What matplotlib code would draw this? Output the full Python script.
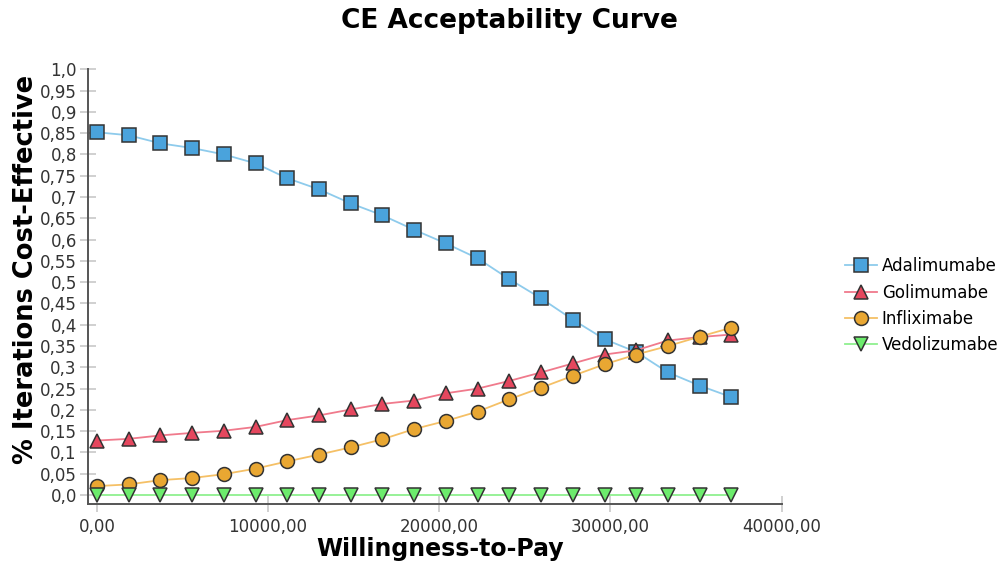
import matplotlib
matplotlib.use("Agg")
import matplotlib.pyplot as plt
from matplotlib.ticker import FuncFormatter

# willingness-to-pay grid (21 points)
wtp = [0, 1853, 3707, 5560, 7414, 9267, 11121, 12974, 14828, 16681, 18535,
       20388, 22242, 24095, 25949, 27802, 29656, 31509, 33363, 35216, 37070]

adalimumabe = [0.852, 0.845, 0.826, 0.815, 0.800, 0.779, 0.744, 0.718, 0.685, 0.657, 0.623,
               0.591, 0.556, 0.507, 0.462, 0.412, 0.366, 0.336, 0.288, 0.257, 0.230]
golimumabe = [0.128, 0.132, 0.140, 0.146, 0.151, 0.160, 0.176, 0.187, 0.201, 0.214, 0.222,
              0.239, 0.250, 0.268, 0.288, 0.309, 0.330, 0.340, 0.363, 0.371, 0.377]
infliximabe = [0.021, 0.025, 0.035, 0.040, 0.049, 0.062, 0.079, 0.095, 0.112, 0.131, 0.155,
               0.174, 0.196, 0.225, 0.252, 0.280, 0.307, 0.330, 0.350, 0.372, 0.393]
vedolizumabe = [0.0] * 21

series = [
    ("Adalimumabe", adalimumabe, "s", "#4aa3dc", "#8ecbec"),
    ("Golimumabe", golimumabe, "^", "#e5475e", "#f07a8c"),
    ("Infliximabe", infliximabe, "o", "#e9a732", "#f5c066"),
    ("Vedolizumabe", vedolizumabe, "v", "#6cec6c", "#8ff08f"),
]

fig = plt.figure(figsize=(10.02, 5.63), dpi=100)
ax = fig.add_axes([0.0878, 0.1048, 0.6922, 0.7722])

for name, vals, mk, face, line in series:
    ax.plot(wtp, vals, color=line, lw=1.3, marker=mk, markersize=10,
            markerfacecolor=face, markeredgecolor="#333333", markeredgewidth=1.1,
            label=name, clip_on=False, zorder=3)

ax.set_xlim(-520, 40000)
ax.set_ylim(-0.021, 1.0)
ax.set_xticks([0, 10000, 20000, 30000, 40000])
ax.set_yticks([i * 0.05 for i in range(21)])


def yfmt(v, pos):
    s = f"{v:.2f}".rstrip("0")
    if s.endswith("."):
        s += "0"
    return s.replace(".", ",")


ax.yaxis.set_major_formatter(FuncFormatter(yfmt))
ax.xaxis.set_major_formatter(FuncFormatter(lambda v, p: f"{v:.2f}".replace(".", ",")))

for side in ["top", "right"]:
    ax.spines[side].set_visible(False)
for side in ["left", "bottom"]:
    ax.spines[side].set_color("#555555")
    ax.spines[side].set_linewidth(1.4)

ax.tick_params(axis="both", direction="inout", length=12, width=1.2,
               color="#c8c8c8", labelsize=12, labelcolor="#333333")
ax.tick_params(axis="y", pad=2)
ax.tick_params(axis="x", pad=4)

fig.text(0.508, 1 - 8 / 563, "CE Acceptability Curve", ha="center", va="top",
         fontsize=19, fontweight="bold")
ax.set_xlabel("Willingness-to-Pay", fontsize=17, fontweight="bold")
ax.xaxis.set_label_coords(0.507, -0.075)
ax.set_ylabel("% Iterations Cost-Effective", fontsize=18.5, fontweight="bold")
ax.yaxis.set_label_coords(-0.071, 0.54)

ax.legend(loc="center left", bbox_to_anchor=(1.07, 0.456), frameon=False,
          fontsize=12, handlelength=1.9, handletextpad=0.3, labelspacing=0.5)

fig.savefig("out.png", dpi=100)
